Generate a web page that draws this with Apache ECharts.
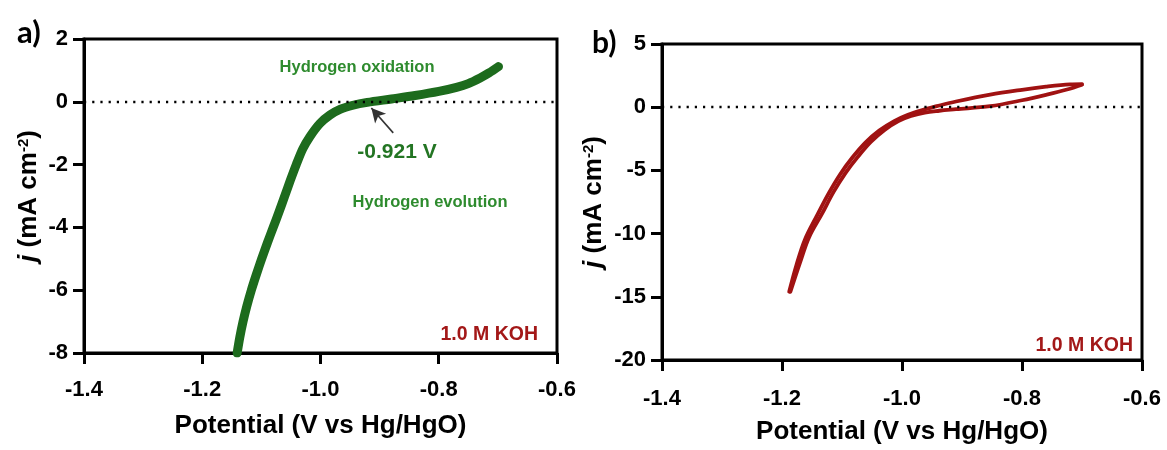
<!DOCTYPE html>
<html>
<head>
<meta charset="utf-8">
<script src="https://cdn.jsdelivr.net/npm/echarts@6/dist/echarts.min.js"></script>
<style>
html,body{margin:0;padding:0;background:#fff;}
#chart{width:1167px;height:450px;}
</style>
</head>
<body>
<div id="chart"></div>
<script>
// ---- Data ----
// Panel a: LSV curve, potential (V vs Hg/HgO) vs j (mA cm^-2)
const lsvPotential = [-1.141,-1.1365,-1.131,-1.1245,-1.117,-1.1085,-1.0995,-1.090,-1.080,-1.070,-1.0605,-1.051,-1.041,-1.030,-1.018,-1.001,-0.984,-0.967,-0.945,-0.921,-0.880,-0.840,-0.800,-0.770,-0.750,-0.730,-0.715,-0.699];
const lsvCurrent   = [-8.0,-7.5,-7.0,-6.5,-6.0,-5.5,-5.0,-4.5,-4.0,-3.5,-3.0,-2.5,-2.0,-1.5,-1.11,-0.69,-0.42,-0.24,-0.11,-0.02,0.09,0.20,0.33,0.46,0.58,0.76,0.92,1.12];

// Panel b: CV loop, two branches
const cvBranchAPotential = [-1.188,-1.176,-1.162,-1.142,-1.122,-1.103,-1.083,-1.061,-1.038,-1.013,-0.990,-0.966,-0.942,-0.910,-0.853,-0.800,-0.760,-0.720,-0.700];
const cvBranchACurrent   = [-14.6,-12.5,-10.5,-8.6,-6.8,-5.3,-4.0,-2.8,-1.85,-1.1,-0.6,-0.22,0.08,0.45,1.0,1.38,1.62,1.8,1.82];
const cvBranchBPotential = [-1.186,-1.170,-1.155,-1.133,-1.114,-1.094,-1.074,-1.052,-1.029,-1.006,-0.985,-0.962,-0.938,-0.910,-0.853,-0.800,-0.760,-0.725,-0.700];
const cvBranchBCurrent   = [-14.6,-12.3,-10.3,-8.4,-6.7,-5.2,-3.95,-2.75,-1.8,-1.1,-0.7,-0.42,-0.28,-0.16,0.08,0.55,0.98,1.4,1.78];

// Axis ticks
const xTicks = {min:-1.4, max:-0.6, interval:0.2};
const yTicksA = {min:-8, max:2, interval:2};
const yTicksB = {min:-20, max:5, interval:5};

// Annotation
const onsetLabel = '-0.921 V';
const arrowFrom = [-0.877, -0.99];
const arrowTo = [-0.914, -0.20];

const zip = (xs, ys) => xs.map((x, i) => [x, ys[i]]);

const FONT = '"Liberation Sans", Arial, sans-serif';
const GREEN = '#1d6b1d';
const RED = '#a01212';

function xAxisCfg(gridIndex, gap, margin) {
  return {
    type:'value', gridIndex, min:xTicks.min, max:xTicks.max, interval:xTicks.interval,
    name:'Potential (V vs Hg/HgO)', nameLocation:'middle', nameGap:gap,
    nameTextStyle:{fontFamily:FONT, fontWeight:'bold', fontSize:26, color:'#000'},
    axisLine:{show:true, onZero:false, lineStyle:{color:'#000', width:3}},
    axisTick:{show:true, length:11, lineStyle:{color:'#000', width:3}},
    axisLabel:{fontFamily:FONT, fontWeight:'bold', fontSize:22, color:'#000', margin:margin,
      formatter:v => v.toFixed(1)},
    splitLine:{show:false}
  };
}
function yAxisCfg(gridIndex, t, gap) {
  return {
    type:'value', gridIndex, min:t.min, max:t.max, interval:t.interval,
    name:'{i|j} (mA cm{sup|-2})', nameLocation:'middle', nameGap:gap, nameRotate:90,
    nameTextStyle:{fontFamily:FONT, fontWeight:'bold', fontSize:26, color:'#000',
      rich:{
        i:{fontFamily:FONT, fontWeight:'bold', fontStyle:'italic', fontSize:26, color:'#000'},
        sup:{fontFamily:FONT, fontWeight:'bold', fontSize:15, color:'#000', verticalAlign:'top', padding:[0,0,11,0]}
      }},
    axisLine:{show:true, onZero:false, lineStyle:{color:'#000', width:3}},
    axisTick:{show:true, length:11, lineStyle:{color:'#000', width:3}},
    axisLabel:{fontFamily:FONT, fontWeight:'bold', fontSize:22, color:'#000', margin:16},
    splitLine:{show:false}
  };
}

const zeroLine = {
  silent:true, symbol:['none','none'], label:{show:false},
  lineStyle:{type:[2.2,6], color:'#000', width:2.4},
  data:[{yAxis:0}]
};

const chart = echarts.init(document.getElementById('chart'), null, {renderer:'canvas'});
chart.setOption({
  animation:false,
  backgroundColor:'#fff',
  grid:[
    {left:84, top:39, width:473, height:314, show:true, borderColor:'#000', borderWidth:3, containLabel:false},
    {left:662, top:44, width:480, height:320, show:true, borderColor:'#000', borderWidth:3, containLabel:false}
  ],
  xAxis:[xAxisCfg(0, 60, 26), xAxisCfg(1, 59, 28)],
  yAxis:[yAxisCfg(0, yTicksA, 42), yAxisCfg(1, yTicksB, 55)],
  series:[
    {
      type:'line', xAxisIndex:0, yAxisIndex:0, data:zip(lsvPotential, lsvCurrent),
      smooth:0.3, showSymbol:false, z:3,
      lineStyle:{color:GREEN, width:9, cap:'round', join:'round'},
      markLine:zeroLine
    },
    {
      type:'line', xAxisIndex:0, yAxisIndex:0, data:[], z:4,
      markLine:{
        silent:true, symbol:['none','arrow'], symbolSize:[11,14], label:{show:false},
        lineStyle:{type:'solid', color:'#333', width:1.6},
        data:[[{coord:arrowFrom},{coord:arrowTo}]]
      }
    },
    {
      type:'line', xAxisIndex:1, yAxisIndex:1, data:zip(cvBranchAPotential, cvBranchACurrent),
      smooth:0.35, showSymbol:false, z:3,
      lineStyle:{color:RED, width:3.8, cap:'round', join:'round'},
      markLine:zeroLine
    },
    {
      type:'line', xAxisIndex:1, yAxisIndex:1, data:zip(cvBranchBPotential, cvBranchBCurrent),
      smooth:0.35, showSymbol:false, z:3,
      lineStyle:{color:RED, width:3.8, cap:'round', join:'round'}
    }
  ],
  graphic:[
    {type:'text', left:17, top:17, style:{text:'a)', font:'bold 31px Lato, "Open Sans", sans-serif', fill:'#000'}},
    {type:'text', left:592, top:28, style:{text:'b)', font:'bold 30px Lato, "Open Sans", sans-serif', fill:'#000'}},
    {type:'text', x:357, y:67, style:{text:'Hydrogen oxidation', font:'bold 16.5px "Liberation Sans", Arial, sans-serif', fill:'#2e8b2e', align:'center', verticalAlign:'middle'}},
    {type:'text', x:397, y:152, style:{text:onsetLabel, font:'bold 21px "Liberation Sans", Arial, sans-serif', fill:'#237523', align:'center', verticalAlign:'middle'}},
    {type:'text', x:430, y:202, style:{text:'Hydrogen evolution', font:'bold 16.5px "Liberation Sans", Arial, sans-serif', fill:'#2e8b2e', align:'center', verticalAlign:'middle'}},
    {type:'text', x:538, y:335, style:{text:'1.0 M KOH', font:'bold 19.5px "Liberation Sans", Arial, sans-serif', fill:'#a31818', align:'right', verticalAlign:'middle'}},
    {type:'text', x:1133, y:346, style:{text:'1.0 M KOH', font:'bold 19.5px "Liberation Sans", Arial, sans-serif', fill:'#a31818', align:'right', verticalAlign:'middle'}}
  ]
});
</script>
</body>
</html>
